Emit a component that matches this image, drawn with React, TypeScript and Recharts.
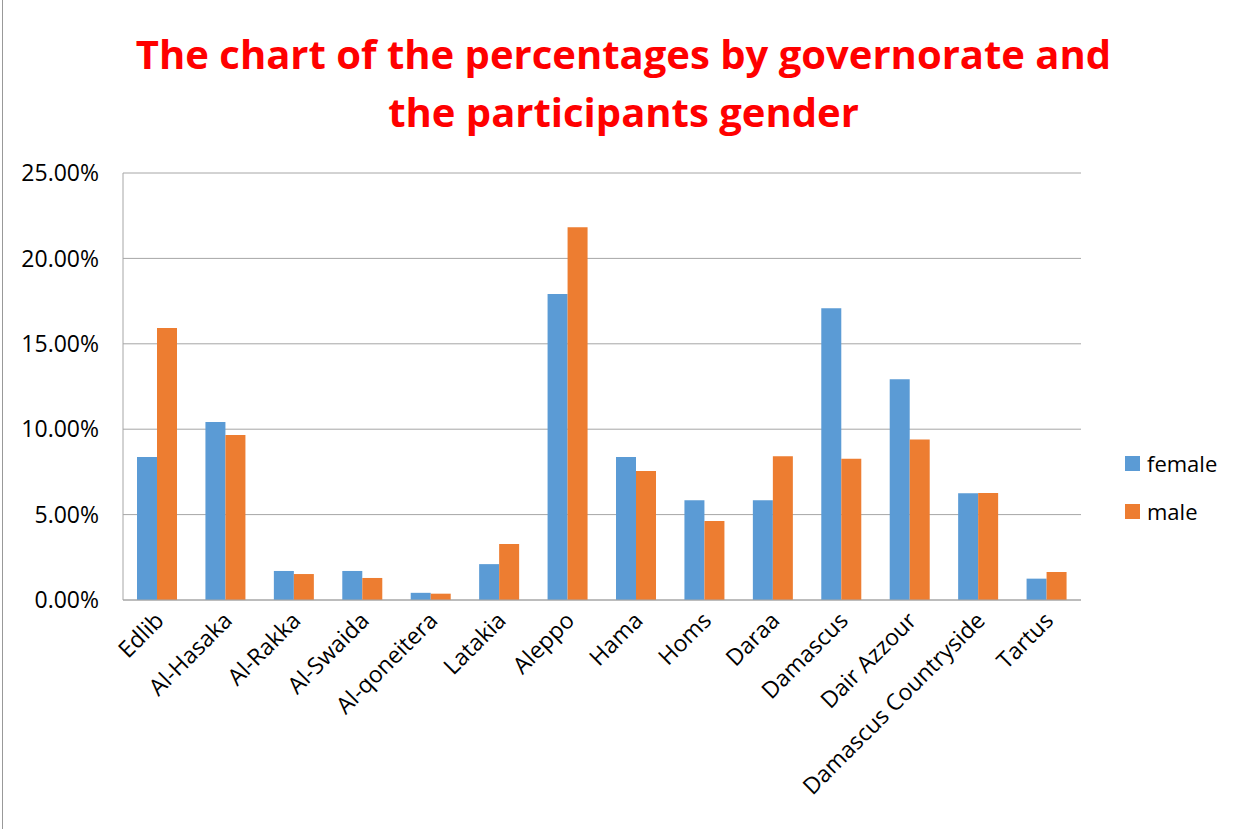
import { BarChart, Bar, XAxis, YAxis, CartesianGrid } from 'recharts';

const governorates = [
  'Edlib', 'Al-Hasaka', 'Al-Rakka', 'Al-Swaida', 'Al-qoneitera', 'Latakia', 'Aleppo',
  'Hama', 'Homs', 'Daraa', 'Damascus', 'Dair Azzour', 'Damascus Countryside', 'Tartus',
];
const female = [8.37, 10.42, 1.70, 1.70, 0.42, 2.10, 17.92, 8.37, 5.84, 5.84, 17.08, 12.92, 6.25, 1.25];
const male = [15.92, 9.66, 1.52, 1.29, 0.37, 3.28, 21.83, 7.55, 4.63, 8.41, 8.27, 9.39, 6.27, 1.64];
const yTicks = [0, 5, 10, 15, 20, 25];

const data = governorates.map((name, i) => ({ name, female: female[i], male: male[i] }));

const font = '"Open Sans", sans-serif';
const BLUE = '#5B9BD5';
const ORANGE = '#ED7D31';

const XTick = (props: any) => {
  const { x, y, payload } = props;
  return (
    <text
      x={x + 8}
      y={y + 14}
      transform={`rotate(-45, ${x + 8}, ${y + 14})`}
      textAnchor="end"
      fontSize={23}
      fontFamily={font}
      fill="#000"
    >
      {payload.value}
    </text>
  );
};

const App = () => (
  <div style={{ position: 'absolute', left: 0, top: 0, width: 1247, height: 829, background: '#fff' }}>
    <div style={{ position: 'absolute', left: 2, top: 0, width: 1, height: 829, background: '#999' }} />
    <div
      style={{
        position: 'absolute', left: 0, top: 25, width: 1247, textAlign: 'center',
        color: '#FF0000', fontFamily: font, fontWeight: 700, fontSize: 40, lineHeight: '58px',
      }}
    >
      The chart of the percentages by governorate and
      <br />
      the participants gender
    </div>
    <BarChart
      width={1247}
      height={829}
      data={data}
      margin={{ top: 173, right: 166, bottom: 0, left: 13 }}
      barGap={0}
      barSize={20}
    >
      <CartesianGrid vertical={false} stroke="#A6A6A6" />
      <XAxis
        dataKey="name"
        interval={0}
        height={229}
        tick={<XTick />}
        tickLine={false}
        axisLine={{ stroke: '#A6A6A6' }}
      />
      <YAxis
        width={110}
        domain={[0, 25]}
        ticks={yTicks}
        tickFormatter={(v: number) => `${v.toFixed(2)}%`}
        tick={{ fontSize: 23, fontFamily: font, fill: '#000' }}
        tickLine={false}
        axisLine={{ stroke: '#A6A6A6' }}
        tickMargin={18}
      />
      <Bar dataKey="female" fill={BLUE} isAnimationActive={false} />
      <Bar dataKey="male" fill={ORANGE} isAnimationActive={false} />
    </BarChart>
    {[
      { label: 'female', color: BLUE, top: 449 },
      { label: 'male', color: ORANGE, top: 497 },
    ].map((item) => (
      <div
        key={item.label}
        style={{
          position: 'absolute', left: 1125, top: item.top, display: 'flex', alignItems: 'center',
          fontFamily: font, fontSize: 22, color: '#000', height: 28,
        }}
      >
        <span style={{ display: 'inline-block', width: 15, height: 15, background: item.color, marginRight: 7 }} />
        {item.label}
      </div>
    ))}
  </div>
);

export default App;
